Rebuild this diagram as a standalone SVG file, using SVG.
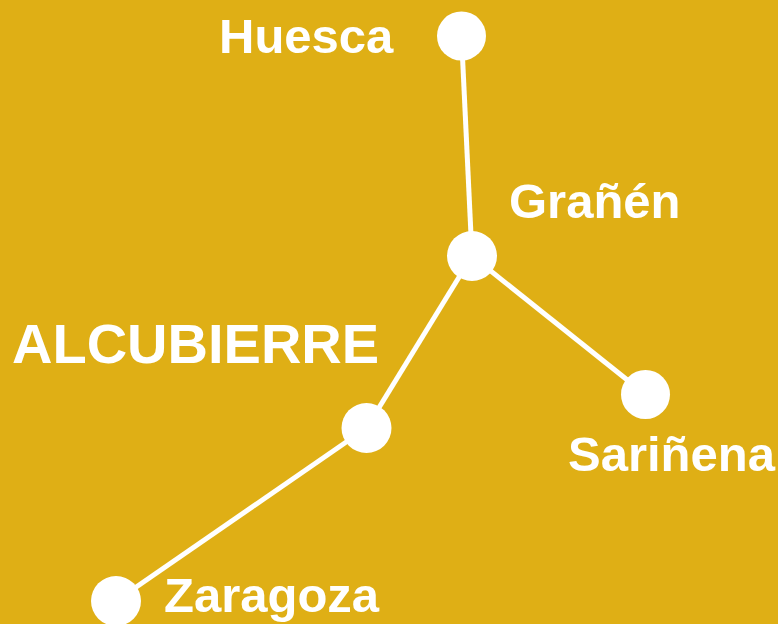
<svg xmlns="http://www.w3.org/2000/svg" width="778" height="624" viewBox="0 0 778 624">
<style>
.lbl{font-family:"Liberation Sans",Arial,sans-serif;font-weight:bold;fill:#ffffff;font-size:49px}
.big{font-size:56px}
.edge{stroke:#ffffff;stroke-width:5;fill:none}
.node{fill:#ffffff}
</style>
<rect x="0" y="0" width="778" height="624" fill="#DFAF15"/>
<g id="connectors">
<line class="edge" x1="461.5" y1="36" x2="472" y2="256"/>
<line class="edge" x1="472" y1="256" x2="645.5" y2="394.5"/>
<line class="edge" x1="472" y1="256" x2="366.5" y2="428"/>
<line class="edge" x1="366.5" y1="428" x2="116" y2="601"/>
</g>
<g id="huesca"><circle class="node" cx="461.5" cy="36" r="24.5"/><text class="lbl" x="219" y="53">Huesca</text></g>
<g id="granen"><circle class="node" cx="472" cy="256" r="25"/><text class="lbl" x="509" y="218">Grañén</text></g>
<g id="sarinena"><circle class="node" cx="645.5" cy="394.5" r="24.5"/><text class="lbl" x="568" y="471">Sariñena</text></g>
<g id="alcubierre"><circle class="node" cx="366.5" cy="428" r="25"/><text class="lbl big" x="12" y="363">ALCUBIERRE</text></g>
<g id="zaragoza"><circle class="node" cx="116" cy="601" r="25"/><text class="lbl" x="164" y="612">Zaragoza</text></g>
</svg>
